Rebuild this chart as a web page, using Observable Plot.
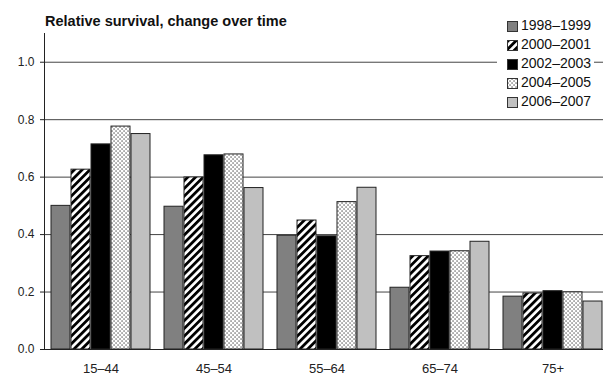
<!DOCTYPE html>
<html>
<head>
<meta charset="utf-8">
<script src="https://cdn.jsdelivr.net/npm/d3@7"></script>
<script src="https://cdn.jsdelivr.net/npm/@observablehq/plot@0.6"></script>
<style>
  html, body { margin: 0; padding: 0; background: #fff; }
  #wrap { position: relative; width: 603px; height: 378px; overflow: hidden; font-family: "Liberation Sans", Arial, sans-serif; color: #111; }
  #title { position: absolute; left: 45px; top: 14px; font-size: 14.5px; line-height: 14.5px; font-weight: bold; white-space: nowrap; }
  #legend { position: absolute; left: 497px; top: 14px; width: 97px; height: 96px; background: #fff; }
  .lrow { position: absolute; left: 24px; font-size: 14px; line-height: 14px; white-space: nowrap; }
  .lsw { position: absolute; left: 10px; }
</style>
</head>
<body>
<svg width="0" height="0" style="position:absolute">
  <defs>
    <pattern id="hatch" patternUnits="userSpaceOnUse" width="5.5" height="5.5" patternTransform="rotate(45)">
      <rect x="0" y="0" width="5.5" height="5.5" fill="#fff"></rect>
      <rect x="0" y="0" width="2.8" height="5.5" fill="#000"></rect>
    </pattern>
    <pattern id="dots" patternUnits="userSpaceOnUse" width="4" height="4">
      <rect x="0" y="0" width="4" height="4" fill="#fff"></rect>
      <rect x="0.4" y="0.4" width="1.3" height="1.3" fill="#555"></rect>
      <rect x="2.4" y="2.4" width="1.3" height="1.3" fill="#555"></rect>
    </pattern>
  </defs>
</svg>
<div id="wrap">
  <div id="chart"></div>
  <div id="title">Relative survival, change over time</div>
  <div id="legend"></div>
</div>
<script>
const ages = ["15–44", "45–54", "55–64", "65–74", "75+"];
const periods = ["1998–1999", "2000–2001", "2002–2003", "2004–2005", "2006–2007"];
const s1998_1999 = [0.500, 0.497, 0.396, 0.215, 0.184];
const s2000_2001 = [0.626, 0.599, 0.449, 0.325, 0.195];
const s2002_2003 = [0.714, 0.676, 0.394, 0.341, 0.203];
const s2004_2005 = [0.776, 0.679, 0.513, 0.342, 0.199];
const s2006_2007 = [0.750, 0.562, 0.563, 0.375, 0.167];
const yTicks = [0, 0.2, 0.4, 0.6, 0.8, 1.0];
const gridTicks = [0.2, 0.4, 0.6, 0.8, 1.0];

const seriesList = [s1998_1999, s2000_2001, s2002_2003, s2004_2005, s2006_2007];
const fills = ["#808080", "url(#hatch)", "#000000", "url(#dots)", "#c0c0c0"];

const data = [];
ages.forEach((a, i) => {
  periods.forEach((p, j) => {
    data.push({age: a, period: p, value: seriesList[j][i]});
  });
});

const chart = Plot.plot({
  width: 603,
  height: 378,
  marginTop: 33,
  marginBottom: 29,
  marginLeft: 43,
  marginRight: -6,
  style: {fontFamily: "Liberation Sans, Arial, sans-serif", fontSize: "12px", color: "#222", background: "#fff"},
  fx: {domain: ages, padding: 0, label: null, axis: null},
  x: {domain: periods, paddingInner: 0.07, paddingOuter: 0.23, axis: null},
  y: {domain: [0, 1.1], axis: null},
  color: {domain: periods, range: fills},
  marks: [
    Plot.ruleY(gridTicks, {stroke: "#444", strokeWidth: 1}),
    Plot.barY(data, {fx: "age", x: "period", y: "value", fill: "period", stroke: "#222", strokeWidth: 1}),
    Plot.ruleY([0], {stroke: "#222", strokeWidth: 1}),
    Plot.frame({anchor: "left", facetAnchor: "left", stroke: "#222"}),
    Plot.axisY(yTicks, {tickFormat: d3.format(".1f"), tickSize: 4, tickPadding: 6, fontSize: 12, label: null, stroke: "#222", fill: "#222"}),
    Plot.axisFx({anchor: "bottom", tickSize: 0, tickPadding: 14.5, fontSize: 13, label: null, fill: "#222"})
  ]
});
document.getElementById("chart").appendChild(chart);

const legend = document.getElementById("legend");
periods.forEach((p, j) => {
  const baseline = 30 + 19 * j;
  const sw = document.createElementNS("http://www.w3.org/2000/svg", "svg");
  sw.setAttribute("width", 11);
  sw.setAttribute("height", 11);
  sw.setAttribute("class", "lsw");
  sw.style.top = (baseline - 9.5 - 14) + "px";
  const r = document.createElementNS("http://www.w3.org/2000/svg", "rect");
  r.setAttribute("x", 0.5); r.setAttribute("y", 0.5);
  r.setAttribute("width", 10); r.setAttribute("height", 10);
  r.setAttribute("fill", fills[j]); r.setAttribute("stroke", "#333");
  sw.appendChild(r);
  legend.appendChild(sw);
  const t = document.createElement("div");
  t.className = "lrow";
  t.textContent = p;
  t.style.top = (baseline - 0.8465 * 14 - 14) + "px";
  legend.appendChild(t);
});
</script>
</body>
</html>
